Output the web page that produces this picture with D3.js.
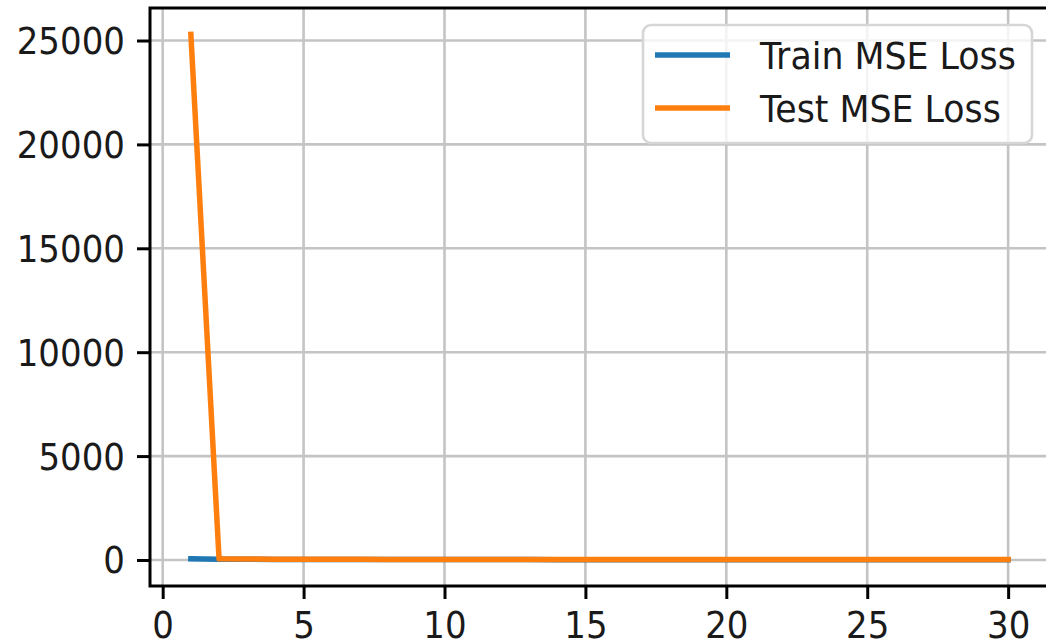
<!DOCTYPE html>
<html>
<head>
<meta charset="utf-8">
<script src="https://cdn.jsdelivr.net/npm/d3@7"></script>
<style>
  body { margin: 0; background: #fff; }
  svg { display: block; font-family: "DejaVu Sans", sans-serif; }
</style>
</head>
<body>
<svg id="chart" width="1046" height="643"></svg>
<script>
var epochs = [1, 2, 3, 4, 5, 6, 7, 8, 9, 10, 11, 12, 13, 14, 15,
  16, 17, 18, 19, 20, 21, 22, 23, 24, 25, 26, 27, 28, 29, 30];
var trainLoss = [62, 38, 31, 27, 24, 22, 21, 20, 19, 18, 18, 17, 17, 16, 16,
  16, 15, 15, 15, 14, 14, 14, 14, 13, 13, 13, 13, 13, 12, 12];
var testLoss = [25300, 60, 45, 38, 34, 31, 29, 28, 27, 26, 25, 25, 24, 24, 23,
  23, 23, 22, 22, 22, 21, 21, 21, 21, 20, 20, 20, 20, 19, 19];
var xTicks = [0, 5, 10, 15, 20, 25, 30];
var yTicks = [0, 5000, 10000, 15000, 20000, 25000];
var seriesNames = ["Train MSE Loss", "Test MSE Loss"];
var seriesColors = ["#1f77b4", "#ff7f0e"];

var fontSize = 37;
var squeeze = 0.92; // glyphs in the picture are a little narrower than DejaVu

var plot = { left: 150, top: 8, width: 899, height: 578 };

// matplotlib style 5% margins
var xMin = d3.min(epochs), xMax = d3.max(epochs);
var xPad = (xMax - xMin) * 0.05;
var allY = trainLoss.concat(testLoss);
var yMin = d3.min(allY), yMax = d3.max(allY);
var yPad = (yMax - yMin) * 0.05;

var x = d3.scaleLinear()
  .domain([xMin - xPad, xMax + xPad])
  .range([plot.left, plot.left + plot.width]);
var y = d3.scaleLinear()
  .domain([yMin - yPad, yMax + yPad])
  .range([plot.top + plot.height, plot.top]);

var svg = d3.select("#chart");

// grid
var grid = svg.append("g").attr("class", "grid");
grid.selectAll("line.gx").data(xTicks).enter().append("line")
  .attr("x1", function (d) { return x(d); })
  .attr("x2", function (d) { return x(d); })
  .attr("y1", plot.top).attr("y2", plot.top + plot.height)
  .attr("stroke", "#c4c4c4").attr("stroke-width", 2.6);
grid.selectAll("line.gy").data(yTicks).enter().append("line")
  .attr("y1", function (d) { return y(d); })
  .attr("y2", function (d) { return y(d); })
  .attr("x1", plot.left).attr("x2", plot.left + plot.width)
  .attr("stroke", "#c4c4c4").attr("stroke-width", 2.6);

// lines
var series = [trainLoss, testLoss];
var line = d3.line()
  .x(function (d, i) { return x(epochs[i]); })
  .y(function (d) { return y(d); });

svg.append("g").selectAll("path").data(series).enter().append("path")
  .attr("d", line)
  .attr("fill", "none")
  .attr("stroke", function (d, i) { return seriesColors[i]; })
  .attr("stroke-width", 5.5)
  .attr("stroke-linejoin", "round")
  .attr("stroke-linecap", "square");

// axes
var xAxis = svg.append("g")
  .attr("transform", "translate(0," + (plot.top + plot.height) + ")")
  .call(d3.axisBottom(x).tickValues(xTicks).tickSize(13).tickPadding(12)
    .tickFormat(d3.format("d")));
var yAxis = svg.append("g")
  .attr("transform", "translate(" + plot.left + ",0)")
  .call(d3.axisLeft(y).tickValues(yTicks).tickSize(13).tickPadding(12)
    .tickFormat(d3.format("d")));

[xAxis, yAxis].forEach(function (ax) {
  ax.select(".domain").remove();
  ax.selectAll(".tick line").attr("stroke", "#000").attr("stroke-width", 3);
  ax.selectAll(".tick text")
    .attr("fill", "#1a1a1a")
    .style("font-size", fontSize + "px")
    .style("font-family", "'DejaVu Sans', sans-serif");
});

// squeeze tick text horizontally around its anchor
xAxis.selectAll(".tick text").each(function () {
  var t = d3.select(this);
  var ty = +t.attr("y");
  t.attr("y", null).attr("dy", null)
    .attr("transform", "translate(0," + (ty + 27) + ") scale(" + squeeze + ",1)");
});
yAxis.selectAll(".tick text").each(function () {
  var t = d3.select(this);
  var tx = +t.attr("x");
  t.attr("x", null).attr("dy", null)
    .attr("transform", "translate(" + tx + ",13) scale(" + squeeze + ",1)");
});

// spines
svg.append("rect")
  .attr("x", plot.left).attr("y", plot.top)
  .attr("width", plot.width).attr("height", plot.height)
  .attr("fill", "none").attr("stroke", "#000").attr("stroke-width", 3);

// legend
var legend = svg.append("g").attr("transform", "translate(643,25)");
legend.append("rect")
  .attr("width", 389).attr("height", 118)
  .attr("rx", 8).attr("ry", 8)
  .attr("fill", "rgba(255,255,255,0.8)")
  .attr("stroke", "#d6d6d6").attr("stroke-width", 2.6);

var items = legend.selectAll("g.item").data(seriesNames).enter().append("g")
  .attr("transform", function (d, i) { return "translate(0," + (30 + i * 53) + ")"; });
items.append("line")
  .attr("x1", 12).attr("x2", 87)
  .attr("stroke", function (d, i) { return seriesColors[i]; })
  .attr("stroke-width", 5.5);
items.append("text")
  .attr("transform", "translate(117,14) scale(0.94,1)")
  .attr("fill", "#1a1a1a")
  .style("font-size", fontSize + "px")
  .text(function (d) { return d; });
</script>
</body>
</html>
